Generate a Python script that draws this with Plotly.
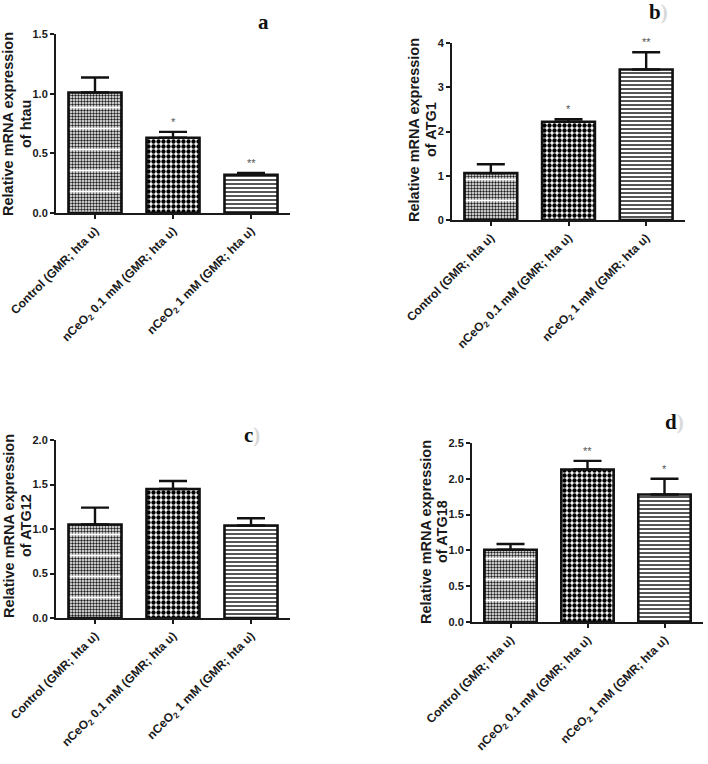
import plotly.graph_objects as go

# ---------------- data ----------------
categories = [
    "Control (GMR; hta u)",
    "nCeO<sub>2</sub> 0.1 mM (GMR; hta u)",
    "nCeO<sub>2</sub> 1 mM (GMR; hta u)",
]

htau_mean = [1.01, 0.63, 0.32]
htau_err = [0.125, 0.05, 0.015]
htau_sig = ["", "*", "**"]

atg1_mean = [1.06, 2.22, 3.40]
atg1_err = [0.20, 0.06, 0.39]
atg1_sig = ["", "*", "**"]

atg12_mean = [1.05, 1.45, 1.04]
atg12_err = [0.19, 0.09, 0.08]
atg12_sig = ["", "", ""]

atg18_mean = [1.01, 2.13, 1.78]
atg18_err = [0.08, 0.12, 0.22]
atg18_sig = ["", "**", "*"]

genes = ["htau", "ATG1", "ATG12", "ATG18"]
y_max = [1.5, 4, 2.0, 2.5]
y_dtick = [0.5, 1, 0.5, 0.5]
panel_letters = ["a", "b", "c", "d"]

means = [htau_mean, atg1_mean, atg12_mean, atg18_mean]
errs = [htau_err, atg1_err, atg12_err, atg18_err]
sigs = [htau_sig, atg1_sig, atg12_sig, atg18_sig]

# ---------------- layout geometry (pixels) ----------------
W, H = 708, 764
boxes = [  # x0, x1, ytop, ybottom
    (56, 290, 34, 213),
    (452, 685, 43, 220),
    (56, 290, 440, 618),
    (472, 703, 443, 622),
]
title_pos = [(8, 26, 124), (414, 431, 130), (9, 26, 526), (426, 442, 532)]
letter_pos = [(263, 22), (658, 12), (252, 435), (674, 422)]
letter_paren = [False, True, True, True]


def px(x):
    return x / W


def py(y):
    return 1 - y / H


fig = go.Figure()
annotations = []
AXFONT = dict(family="Liberation Sans, Arial", size=11, color="#1a1a1a", weight="bold")
XFONT = dict(family="Liberation Sans, Arial", size=12, color="#1a1a1a", weight="bold")
TFONT = dict(family="Liberation Sans, Arial", size=14.5, color="#1a1a1a", weight="bold")

for i in range(4):
    sfx = "" if i == 0 else str(i + 1)
    xa, ya = "x" + sfx, "y" + sfx
    # base pattern fill
    fig.add_trace(go.Bar(
        x=categories, y=means[i], xaxis=xa, yaxis=ya, width=0.68,
        marker=dict(
            color="white",
            line=dict(width=0),
            pattern=dict(
                shape=[".", ".", "-"],
                size=[3, 5, 4],
                solidity=[0.5, 0.6, 0.4],
                fgcolor=["#1e1e1e", "#000000", "#2a2a2a"],
                bgcolor="white",
            ),
        ),
        showlegend=False, hoverinfo="skip",
    ))
    # white banding + border + error bars
    fig.add_trace(go.Bar(
        x=categories, y=means[i], xaxis=xa, yaxis=ya, width=0.68,
        marker=dict(
            color="rgba(0,0,0,0)",
            line=dict(width=2.6, color="#111111"),
            pattern=dict(
                shape=["-", "", ""],
                size=21,
                solidity=0.08,
                fgcolor="white",
                bgcolor="rgba(0,0,0,0)",
            ),
        ),
        error_y=dict(type="data", symmetric=False, array=errs[i],
                     arrayminus=[0, 0, 0], color="#111111",
                     thickness=2.4, width=14),
        showlegend=False, hoverinfo="skip",
    ))
    x0, x1, yt, yb = boxes[i]
    fig.layout["xaxis" + sfx] = dict(
        domain=[px(x0), px(x1)], anchor=ya, type="category", automargin=False,
        range=[-0.5, 2.5], showgrid=False, zeroline=False,
        showline=True, linecolor="#1a1a1a", linewidth=2,
        ticks="outside", ticklen=4, tickwidth=1.5, tickcolor="#1a1a1a",
        tickangle=-45, tickfont=XFONT,
    )
    fig.layout["yaxis" + sfx] = dict(
        domain=[py(yb), py(yt)], anchor=xa, automargin=False,
        range=[0, y_max[i]], dtick=y_dtick[i], tick0=0,
        tickformat=".1f" if y_dtick[i] < 1 else "d",
        showgrid=False, zeroline=False,
        showline=True, linecolor="#1a1a1a", linewidth=2,
        ticks="outside", ticklen=4, tickwidth=1.5, tickcolor="#1a1a1a",
        tickfont=AXFONT,
    )
    # significance stars
    for c, m, e, s in zip(categories, means[i], errs[i], sigs[i]):
        if s:
            annotations.append(dict(
                x=c, y=m + e, xref=xa, yref=ya, text=s, showarrow=False,
                yanchor="bottom", yshift=2,
                font=dict(family="Liberation Sans, Arial", size=11, color="#555555"),
            ))
    # y title (two lines)
    l1x, l2x, ty = title_pos[i]
    for lx_, txt_ in ((l1x, "Relative mRNA expression"), (l2x, "of " + genes[i])):
        annotations.append(dict(
            x=px(lx_), y=py(ty), xref="paper", yref="paper", text=txt_,
            textangle=-90, showarrow=False, xanchor="center", yanchor="middle",
            font=TFONT,
        ))
    # panel letter
    lx, ly = letter_pos[i]
    txt = panel_letters[i] + ("<span style='color:#d9d9d9'>)</span>" if letter_paren[i] else "")
    annotations.append(dict(
        x=px(lx), y=py(ly), xref="paper", yref="paper", text=txt,
        showarrow=False, xanchor="center", yanchor="middle",
        font=dict(family="Liberation Serif, Times New Roman", size=21, color="#111111", weight="bold"),
    ))

fig.update_layout(
    template="none",
    width=W, height=H, barmode="overlay",
    margin=dict(l=0, r=0, t=0, b=0, autoexpand=False),
    paper_bgcolor="white", plot_bgcolor="white",
    annotations=annotations, showlegend=False,
)

fig.write_html(
    "out.html",
    config={"displayModeBar": False},
    post_script="document.body.style.margin='0';document.body.style.padding='0';",
)
